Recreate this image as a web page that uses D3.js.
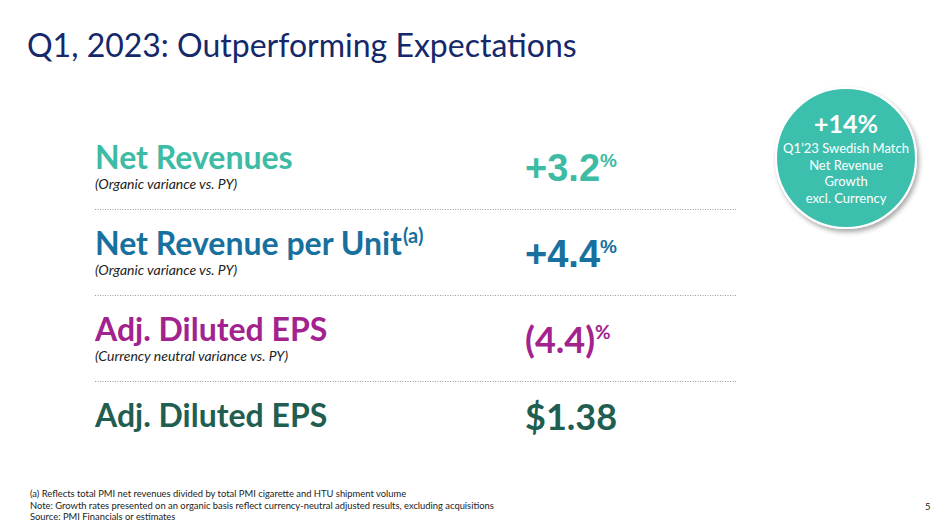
<!doctype html>
<html>
    <head>
        <title>Q1, 2023: Outperforming Expectations</title>
        <script src="https://d3js.org/d3.v7.min.js"></script>
        <style>
            body { margin: 0; background: #fff; }
            text { font-family: Lato, sans-serif; }
            .title { font-size: 32px; fill: #15286a; }
            .metric { font-size: 32px; font-weight: bold; }
            .note { font-size: 14px; font-style: italic; fill: #222; }
            .foot { font-size: 9.4px; fill: #222; }
        </style>
    </head>
    <body>
        <svg height="531" id="chart" width="945"></svg>
        <script>
            const metrics = ["Net Revenues", "Net Revenue per Unit", "Adj. Diluted EPS", "Adj. Diluted EPS"];
            const metricSups = ["", "(a)", "", ""];
            const metricNotes = ["(Organic variance vs. PY)", "(Organic variance vs. PY)", "(Currency neutral variance vs. PY)", ""];
            const metricValues = ["+3.2", "+4.4", "(4.4)", "$1.38"];
            const valueUnits = ["%", "%", "%", ""];
            const highlightValue = "+14%";
            const highlightLines = ["Q1\u201923 Swedish Match", "Net Revenue", "Growth", "excl. Currency"];
            const footnotes = [
                "(a) Reflects total PMI net revenues divided by total PMI cigarette and HTU shipment volume",
                "Note: Growth rates presented on an organic basis reflect currency-neutral adjusted results, excluding acquisitions",
                "Source: PMI Financials or estimates"
            ];

            const palette = ["#3dbba5", "#17709e", "#a2238e", "#1f5e50"];
            const chart = d3.select("#chart");

            chart.append("text")
                .attr("class", "title")
                .attr("x", 27)
                .attr("y", 57)
                .text("Q1, 2023: Outperforming Expectations");

            const rowY = d3.scaleLinear().domain([0, metrics.length - 1]).range([169, 427]);
            const leftX = 95, valueX = 525, lineEnd = 737;

            const rows = chart.append("g").selectAll("g")
                .data(metrics)
                .enter()
                .append("g")
                .attr("transform", (d, i) => "translate(0," + rowY(i) + ")");

            const titles = rows.append("text")
                .attr("class", "metric")
                .attr("x", leftX)
                .attr("y", 0)
                .style("fill", (d, i) => palette[i]);
            titles.append("tspan").text(d => d);
            titles.append("tspan")
                .attr("dy", -12)
                .attr("dx", 1)
                .style("font-size", "20px")
                .text((d, i) => metricSups[i]);

            rows.append("text")
                .attr("class", "note")
                .attr("x", leftX)
                .attr("y", 20)
                .text((d, i) => metricNotes[i]);

            // the two organic figures use a plain sans face on the slide
            const vals = rows.append("text")
                .attr("x", valueX)
                .attr("y", (d, i) => i < 3 ? 12 : 3)
                .style("fill", (d, i) => palette[i])
                .style("font-family", (d, i) => i < 2 ? "'Liberation Sans', Arial, sans-serif" : "Lato, sans-serif")
                .style("font-weight", "bold")
                .style("font-size", (d, i) => i < 2 ? "38px" : "36px");
            vals.append("tspan").text((d, i) => metricValues[i]);
            vals.append("tspan")
                .attr("dy", -14)
                .style("font-size", "19px")
                .text((d, i) => valueUnits[i]);

            chart.append("g").selectAll("line")
                .data(d3.range(metrics.length - 1))
                .enter()
                .append("line")
                .attr("x1", leftX)
                .attr("x2", lineEnd)
                .attr("y1", i => Math.round((rowY(i) + rowY(i + 1)) / 2) - 2.5)
                .attr("y2", i => Math.round((rowY(i) + rowY(i + 1)) / 2) - 2.5)
                .style("stroke", "#9a9a9a")
                .style("stroke-width", 1)
                .style("stroke-dasharray", "1,1.5");

            // highlight bubble
            const defs = chart.append("defs");
            const f = defs.append("filter").attr("id", "shadow").attr("x", "-20%").attr("y", "-20%").attr("width", "150%").attr("height", "150%");
            f.append("feDropShadow").attr("dx", 2).attr("dy", 3).attr("stdDeviation", 2.5).attr("flood-color", "#000").attr("flood-opacity", 0.35);

            const bubble = chart.append("g").attr("transform", "translate(846,158)");
            bubble.append("circle")
                .attr("r", 70)
                .style("fill", "#3dbfae")
                .style("stroke", "#fff")
                .style("stroke-width", 2)
                .attr("filter", "url(#shadow)");
            bubble.append("text")
                .attr("text-anchor", "middle")
                .attr("y", -25)
                .style("fill", "#fff")
                .style("font-weight", "bold")
                .style("font-size", "25px")
                .text(highlightValue);
            bubble.selectAll(".bl")
                .data(highlightLines)
                .enter()
                .append("text")
                .attr("class", "bl")
                .attr("text-anchor", "middle")
                .attr("y", (d, i) => -5 + i * 16.5)
                .style("fill", "#fff")
                .style("font-size", "13px")
                .text(d => d);

            chart.append("g").selectAll("text")
                .data(footnotes)
                .enter()
                .append("text")
                .attr("class", "foot")
                .attr("x", 30)
                .attr("y", (d, i) => 497 + i * 11.5)
                .text(d => d);

            chart.append("text")
                .attr("class", "foot")
                .attr("x", 925)
                .attr("y", 510)
                .text("5");
        </script>
    </body>
</html>
